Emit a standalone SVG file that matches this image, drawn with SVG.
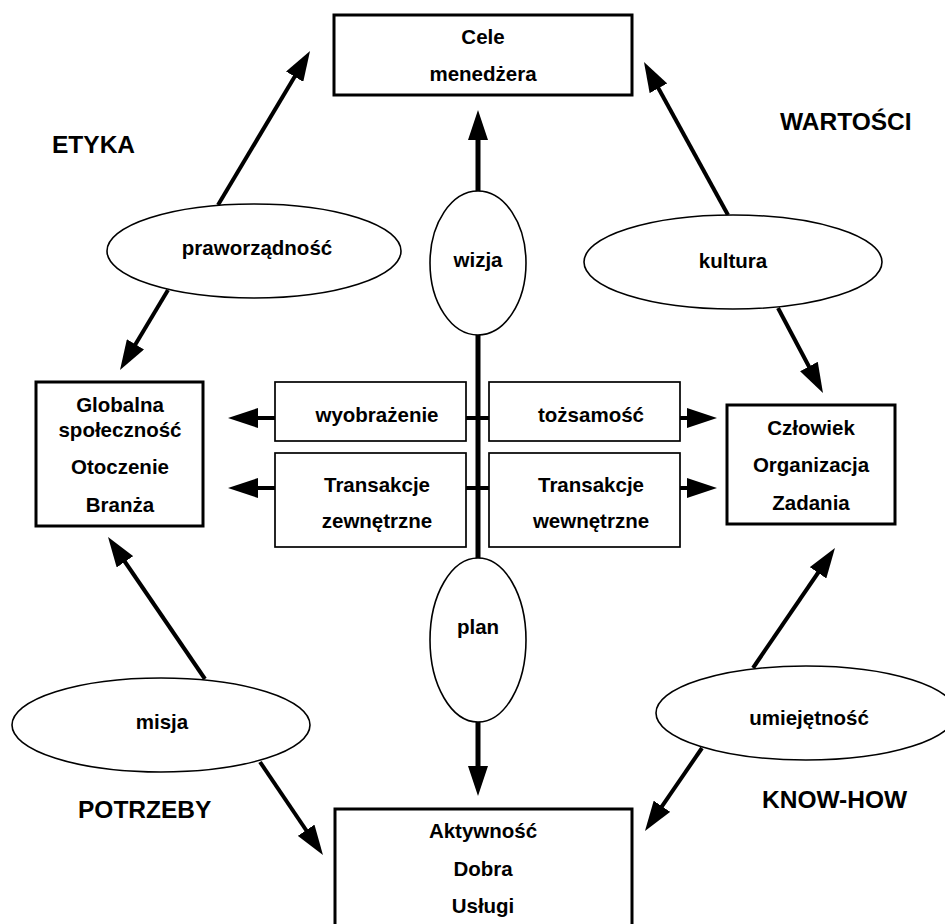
<svg xmlns="http://www.w3.org/2000/svg" width="945" height="924" viewBox="0 0 945 924">
  <style>
    text { font-family: "Liberation Sans", Arial, sans-serif; font-weight: bold; fill: #000; text-anchor: middle; }
    .t { font-size: 20.5px; }
    .corner { font-size: 24.5px; text-anchor: start; }
    .main { fill: #fff; stroke: #000; stroke-width: 3; }
    .mid { fill: #fff; stroke: #000; stroke-width: 1.7; }
    .oval { fill: #fff; stroke: #000; stroke-width: 1.6; }
    .conn { fill: none; stroke: #000; stroke-width: 4; marker-end: url(#head); }
    .stub { fill: none; stroke: #000; stroke-width: 4; }
  </style>
  <defs>
    <marker id="head" markerUnits="userSpaceOnUse" markerWidth="30" markerHeight="20" refX="4" refY="10" orient="auto-start-reverse" viewBox="0 0 30 20">
      <path d="M0,0 L30,10 L0,20 z" fill="#000"/>
    </marker>
  </defs>

  <!-- connectors -->
  <g id="connectors">
    <path class="conn" d="M478,136 L478,770" style="marker-start:url(#head);stroke-width:5"/>
    <path class="stub" d="M466,418 H489 M466,488 H489"/>
    <path class="conn" d="M275,418 H254"/>
    <path class="conn" d="M275,488 H254"/>
    <path class="conn" d="M680,418 H691"/>
    <path class="conn" d="M680,488 H691"/>
    <path class="conn" d="M218,205 L296.7,73.3"/>
    <path class="conn" d="M168,290 L133.4,347.7"/>
    <path class="conn" d="M728,215 L656.5,84.8"/>
    <path class="conn" d="M778,308 L810.8,370"/>
    <path class="conn" d="M205,679 L122.7,558.5"/>
    <path class="conn" d="M260,762 L308.4,833.5"/>
    <path class="conn" d="M753,668 L820.3,569.5"/>
    <path class="conn" d="M702,748 L659.7,809.6"/>
  </g>

  <!-- corner labels -->
  <text class="corner" x="52" y="153">ETYKA</text>
  <text class="corner" x="780" y="130">WARTOŚCI</text>
  <text class="corner" x="78" y="818">POTRZEBY</text>
  <text class="corner" x="762" y="808">KNOW-HOW</text>

  <g id="cele">
    <rect class="main" x="334" y="15" width="298" height="80"/>
    <text class="t" x="483" y="44">Cele</text>
    <text class="t" x="483" y="81">menedżera</text>
  </g>

  <g id="otoczenie">
    <rect class="main" x="36" y="382" width="167" height="144"/>
    <text class="t" x="120" y="412">Globalna</text>
    <text class="t" x="120" y="437">społeczność</text>
    <text class="t" x="120" y="474">Otoczenie</text>
    <text class="t" x="120" y="512">Branża</text>
  </g>

  <g id="organizacja">
    <rect class="main" x="727" y="405" width="168" height="119"/>
    <text class="t" x="811" y="435">Człowiek</text>
    <text class="t" x="811" y="472">Organizacja</text>
    <text class="t" x="811" y="510">Zadania</text>
  </g>

  <g id="aktywnosc">
    <rect class="main" x="335" y="809" width="297" height="140"/>
    <text class="t" x="483" y="838">Aktywność</text>
    <text class="t" x="483" y="876">Dobra</text>
    <text class="t" x="483" y="913">Usługi</text>
  </g>

  <g id="wyobrazenie">
    <rect class="mid" x="275" y="382" width="191" height="59"/>
    <text class="t" x="377" y="422">wyobrażenie</text>
  </g>

  <g id="transakcje-zew">
    <rect class="mid" x="275" y="453" width="191" height="94"/>
    <text class="t" x="377" y="492">Transakcje</text>
    <text class="t" x="377" y="528">zewnętrzne</text>
  </g>

  <g id="tozsamosc">
    <rect class="mid" x="489" y="382" width="191" height="59"/>
    <text class="t" x="591" y="422">tożsamość</text>
  </g>

  <g id="transakcje-wew">
    <rect class="mid" x="489" y="453" width="191" height="94"/>
    <text class="t" x="591" y="492">Transakcje</text>
    <text class="t" x="591" y="528">wewnętrzne</text>
  </g>

  <g id="wizja">
    <ellipse class="oval" cx="478" cy="263" rx="48" ry="72"/>
    <text class="t" x="478" y="267">wizja</text>
  </g>

  <g id="plan">
    <ellipse class="oval" cx="478" cy="640" rx="48" ry="82"/>
    <text class="t" x="478" y="634">plan</text>
  </g>

  <g id="praworzadnosc">
    <ellipse class="oval" cx="254" cy="251" rx="147" ry="47"/>
    <text class="t" x="257" y="255">praworządność</text>
  </g>

  <g id="kultura">
    <ellipse class="oval" cx="733" cy="262" rx="149" ry="47"/>
    <text class="t" x="733" y="268">kultura</text>
  </g>

  <g id="misja">
    <ellipse class="oval" cx="161" cy="725" rx="149" ry="47"/>
    <text class="t" x="162" y="729">misja</text>
  </g>

  <g id="umiejetnosc">
    <ellipse class="oval" cx="806" cy="713" rx="150" ry="47"/>
    <text class="t" x="809" y="725">umiejętność</text>
  </g>
</svg>
